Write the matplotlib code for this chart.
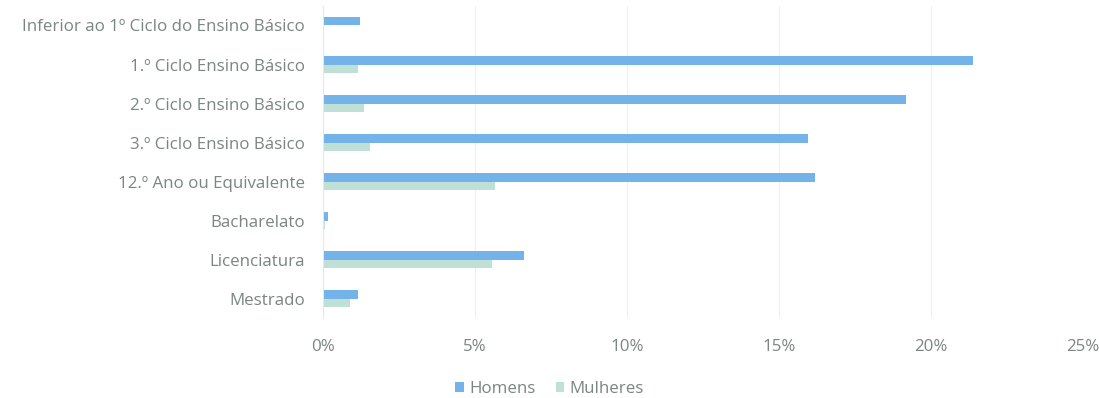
import matplotlib.pyplot as plt
import numpy as np
from matplotlib.ticker import FuncFormatter

plt.rcParams['font.family'] = ['Open Sans', 'DejaVu Sans']

niveis = ['Inferior ao 1º Ciclo do Ensino Básico', '1.º Ciclo Ensino Básico',
          '2.º Ciclo Ensino Básico', '3.º Ciclo Ensino Básico',
          '12.º Ano ou Equivalente', 'Bacharelato', 'Licenciatura', 'Mestrado']
homens = [1.2, 21.4, 19.2, 15.95, 16.2, 0.15, 6.6, 1.15]
mulheres = [0.0, 1.15, 1.35, 1.55, 5.65, 0.07, 5.55, 0.9]

cor_h = '#74b3ea'
cor_m = '#bfe0d6'
cinza = '#7b8582'

fig = plt.figure(figsize=(10.99, 3.98), dpi=100)
ax = fig.add_axes([0.294, 0.2, 0.691, 0.785])

y = np.arange(len(niveis))
h = 0.22
ax.barh(y - h / 2, homens, height=h, color=cor_h, label='Homens')
ax.barh(y + h / 2, mulheres, height=h, color=cor_m, label='Mulheres')

ax.set_ylim(len(niveis) - 0.5, -0.5)
ax.set_xlim(0, 25)
ax.set_xticks([0, 5, 10, 15, 20, 25])
ax.xaxis.set_major_formatter(FuncFormatter(lambda v, p: f'{v:.0f}%'))
ax.set_yticks(y)
ax.set_yticklabels(niveis)

ax.grid(axis='x', color='#efefef', linewidth=0.8)
ax.set_axisbelow(True)
for s in ['top', 'right', 'bottom']:
    ax.spines[s].set_visible(False)
ax.spines['left'].set_color('#e8e8e8')
ax.tick_params(axis='both', length=0, colors=cinza, labelsize=12.2)
ax.tick_params(axis='x', pad=15)
ax.tick_params(axis='y', pad=13)

leg = fig.legend(loc='center', bbox_to_anchor=(0.5, 0.022), ncol=2, frameon=False,
                 fontsize=12.2, handlelength=0.5, handleheight=0.5, handletextpad=0.3,
                 columnspacing=1.2)
for t in leg.get_texts():
    t.set_color(cinza)

fig.savefig('out.png', dpi=100, facecolor='white')
